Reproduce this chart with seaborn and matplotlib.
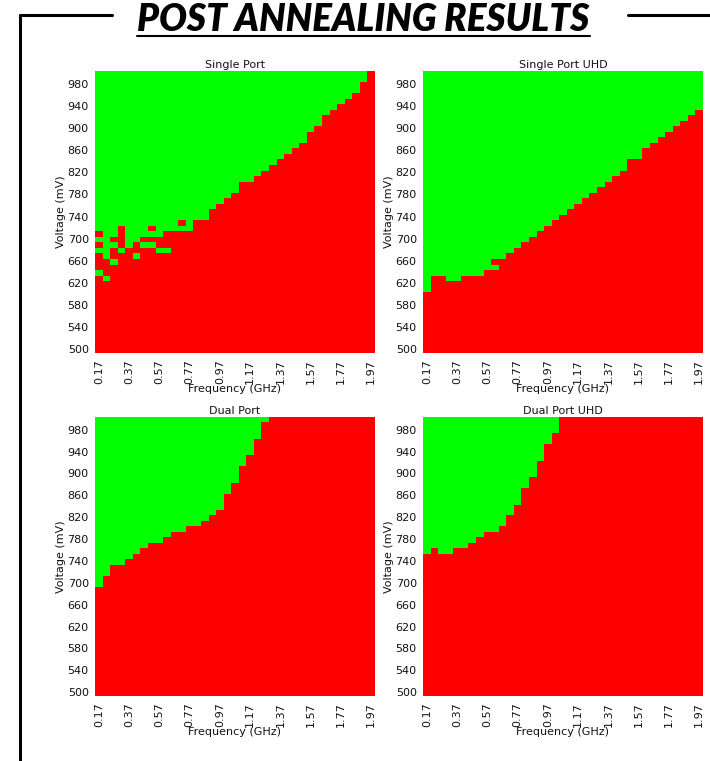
import numpy as np
import pandas as pd
import matplotlib
matplotlib.use('Agg')
import matplotlib.pyplot as plt
from matplotlib.colors import ListedColormap
from matplotlib.lines import Line2D
import seaborn as sns

# frequency columns (GHz) and voltage rows (mV)
freqs = ['0.17', '0.22', '0.27', '0.32', '0.37', '0.42', '0.47', '0.52', '0.57', '0.62',
         '0.67', '0.72', '0.77', '0.82', '0.87', '0.92', '0.97', '1.02', '1.07', '1.12',
         '1.17', '1.22', '1.27', '1.32', '1.37', '1.42', '1.47', '1.52', '1.57', '1.62',
         '1.67', '1.72', '1.77', '1.82', '1.87', '1.92', '1.97']
volts = list(range(500, 1001, 10))

# lowest voltage of the solid pass region for each frequency (None = never passes)
single_port_min = [720, 670, 710, 730, 690, 700, 710, 730, 710, 720,
                   720, 740, 720, 740, 740, 760, 770, 780, 790, 810,
                   810, 820, 830, 840, 850, 860, 870, 880, 900, 910,
                   930, 940, 950, 960, 970, 990, None]
# isolated passing cells below the boundary (freq index, mV)
single_port_islands = [(0, 700), (0, 680), (0, 640), (1, 630), (2, 690), (2, 660),
                       (3, 680), (5, 670), (6, 690), (7, 710), (7, 690), (8, 680),
                       (9, 680), (11, 720)]

single_uhd_min = [610, 640, 640, 630, 630, 640, 640, 640, 650, 670,
                  670, 680, 690, 700, 710, 720, 730, 740, 750, 760,
                  770, 780, 790, 800, 810, 820, 830, 850, 850, 870,
                  880, 890, 900, 910, 920, 930, 940]
single_uhd_islands = [(9, 650)]

dual_port_min = [700, 720, 740, 740, 750, 760, 770, 780, 780, 790,
                 800, 800, 810, 810, 820, 830, 840, 870, 890, 920,
                 940, 970, 1000, None, None, None, None, None, None, None,
                 None, None, None, None, None, None, None]

dual_uhd_min = [760, 770, 760, 760, 770, 770, 780, 790, 800, 800,
                810, 830, 850, 880, 900, 930, 960, 980, None, None,
                None, None, None, None, None, None, None, None, None, None,
                None, None, None, None, None, None, None]


def shmoo_frame(min_pass, islands=()):
    grid = np.zeros((len(volts), len(freqs)))
    for j, lo in enumerate(min_pass):
        if lo is None:
            continue
        for i, v in enumerate(volts):
            if v >= lo:
                grid[i, j] = 1
    for j, v in islands:
        grid[volts.index(v), j] = 1
    return pd.DataFrame(grid, index=volts, columns=freqs)


def draw_shmoo(ax, df, title):
    cmap = ListedColormap(['#ff0000', '#00ff00'])
    sns.heatmap(df, ax=ax, cmap=cmap, vmin=0, vmax=1, cbar=False,
                xticklabels=4, yticklabels=4)
    ax.invert_yaxis()
    ax.set_xticks(np.arange(len(freqs)) + 0.5, minor=True)
    ax.set_yticks(np.arange(len(volts)) + 0.5, minor=True)
    ax.tick_params(axis='both', which='major', length=3, width=0.6,
                   labelsize=8, color='#444444', labelcolor='#111111', pad=1.5)
    ax.tick_params(axis='both', which='minor', length=1.6, width=0.5,
                   color='#777777')
    ax.tick_params(axis='x', labelrotation=90)
    ax.tick_params(axis='y', labelrotation=0)
    ax.set_title(title, fontsize=8, pad=2, color='#111111')
    ax.set_xlabel('Frequency (GHz)', fontsize=8, labelpad=0, color='#111111')
    ax.set_ylabel('Voltage (mV)', fontsize=8, labelpad=1, color='#111111')


def main():
    sns.set_style('white')
    plt.rcParams['font.family'] = ['DejaVu Sans']
    W, H = 710, 761
    fig = plt.figure(figsize=(W / 100, H / 100), dpi=100)

    def box(x0, y0, x1, y1):
        return [x0 / W, 1 - y1 / H, (x1 - x0) / W, (y1 - y0) / H]

    panels = [
        (box(95, 71, 375, 353), shmoo_frame(single_port_min, single_port_islands), 'Single Port'),
        (box(423, 71, 703, 353), shmoo_frame(single_uhd_min, single_uhd_islands), 'Single Port UHD'),
        (box(95, 417, 375, 696), shmoo_frame(dual_port_min), 'Dual Port'),
        (box(423, 417, 703, 696), shmoo_frame(dual_uhd_min), 'Dual Port UHD'),
    ]
    for rect, df, title in panels:
        ax = fig.add_axes(rect)
        draw_shmoo(ax, df, title)

    # slide heading with bracket lines
    fig.text(363 / W, 1 - 31 / H, 'POST ANNEALING RESULTS', ha='center', va='baseline',
             fontsize=26.5, fontweight='heavy', fontstyle='italic', color='black',
             family=['Lato', 'DejaVu Sans'])
    lw = 2.2
    fig.add_artist(Line2D([137 / W, 590 / W], [1 - 36 / H, 1 - 36 / H], color='black', lw=1.5))
    fig.add_artist(Line2D([20 / W, 112 / W], [1 - 15 / H, 1 - 15 / H], color='black', lw=lw))
    fig.add_artist(Line2D([20 / W, 20 / W], [1 - 15 / H, 0], color='black', lw=lw))
    fig.add_artist(Line2D([628 / W, 1], [1 - 15 / H, 1 - 15 / H], color='black', lw=lw))

    fig.savefig('out.png', dpi=100)


if __name__ == '__main__':
    main()
